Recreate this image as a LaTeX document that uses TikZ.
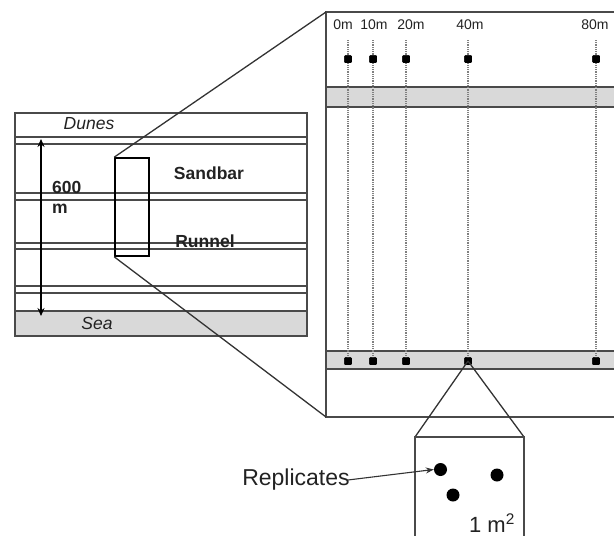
\documentclass[tikz,border=0pt]{standalone}
\usepackage{fontspec}
\setmainfont{Liberation Sans}
\usetikzlibrary{arrows.meta}
\definecolor{edgegray}{HTML}{4A4A4A}
\definecolor{bandgray}{HTML}{D9D9D9}
\definecolor{txt}{HTML}{222222}
\begin{document}
\begin{tikzpicture}[x=1pt,y=-1pt,
  panel/.style={draw=edgegray,line width=1.5pt},
  strip/.style={draw=edgegray,fill=white,line width=1.4pt},
  zoomline/.style={draw=black!80,line width=1.3pt},
  lbl/.style={inner sep=0pt,text=txt,font=\fontsize{17.5}{19}\selectfont},
  bold/.style={lbl,font=\fontsize{17.5}{20}\selectfont\bfseries},
  dist/.style={inner sep=0pt,text=txt,font=\fontsize{14}{15}\selectfont},
  marker/.style={fill=black,rounded corners=1pt,minimum size=7.5pt,inner sep=0pt,draw=none,rectangle},
  transect/.style={draw=gray,dash pattern=on 1pt off 0.8pt,line width=1.3pt},
  dot/.style={circle,fill=black,minimum size=13pt,inner sep=0pt}]
\useasboundingbox (0,0) rectangle (614,536);

% ---------- left panel ----------
\fill[bandgray] (15,311) rectangle (307,336);
\draw[strip] (15,137) rectangle (307,144);
\draw[strip] (15,193) rectangle (307,200);
\draw[strip] (15,243) rectangle (307,249);
\draw[strip] (15,286) rectangle (307,293);
\draw[panel] (15,311) -- (307,311);
\draw[panel] (15,113) rectangle (307,336);

\node[lbl,font=\fontsize{17.5}{19}\selectfont\itshape] (dunes) at (89,124) {Dunes};
\node[lbl,font=\fontsize{17.5}{19}\selectfont\itshape] (sea) at (97,323) {Sea};

\coordinate (atop) at (41,139);
\coordinate (abot) at (41,316);
\draw[{Stealth[length=8pt,width=7pt]}-{Stealth[length=8pt,width=7pt]},line width=1.6pt,black] (atop) -- (abot);
\node[bold,anchor=west,align=left] (dist600) at (52,197) {600\\m};

\node[draw=black,line width=1.6pt,minimum width=34pt,minimum height=98pt,inner sep=0pt] (sel) at (132,207) {};
\node[bold] (sandbar) at (209,173) {Sandbar};
\node[bold] (runnel) at (205,241) {Runnel};

% ---------- right panel ----------
\fill[bandgray] (326,87) rectangle (614,107);
\fill[bandgray] (326,351) rectangle (614,369);
\draw[edgegray,line width=1.3pt] (326,87) -- (614,87) (326,107) -- (614,107);
\draw[edgegray,line width=1.3pt] (326,351) -- (614,351) (326,369) -- (614,369);
\coordinate (rtl) at (326,12);
\coordinate (rbl) at (326,417);
\draw[panel] (614,12) -- (rtl) -- (rbl) -- (614,417);

% transects
\foreach \name/\x/\lx/\t in {t0/348/343/0m, t10/373/374/10m, t20/406/411/20m, t40/468/470/40m, t80/596/595/80m}{
  \node[dist] (l\name) at (\lx,25) {\t};
  \coordinate (s\name) at (\x,40);
  \node[marker] (u\name) at (\x,59) {};
  \node[marker] (b\name) at (\x,361) {};
  \draw[transect] (s\name) -- (b\name.center);
  \node[marker] at (\x,59) {};
  \node[marker] at (\x,361) {};
}

% zoom lines
\draw[zoomline] (sel.north west) -- (rtl);
\draw[zoomline] (sel.south west) -- (rbl);

% ---------- quadrat ----------
\coordinate (qtl) at (415,437);
\coordinate (qtr) at (524,437);
\draw[zoomline] (bt40.center) -- (qtl);
\draw[zoomline] (bt40.center) -- (qtr);
\draw[panel] (415,540) -- (qtl) -- (qtr) -- (524,540);

\node[dot] (d1) at (440.5,469.5) {};
\node[dot] (d2) at (497,475) {};
\node[dot] (d3) at (453,495) {};

\node[lbl,font=\fontsize{23}{25}\selectfont] (rep) at (296,480) {Replicates};
\draw[-{Stealth[length=8pt,width=6pt]},line width=1.1pt,black!80] (rep.east) ++(-2,0) -- (d1.west);
\node[lbl,font=\fontsize{22}{24}\selectfont] (area) at (492,523) {1 m\textsuperscript{2}};
\end{tikzpicture}
\end{document}
